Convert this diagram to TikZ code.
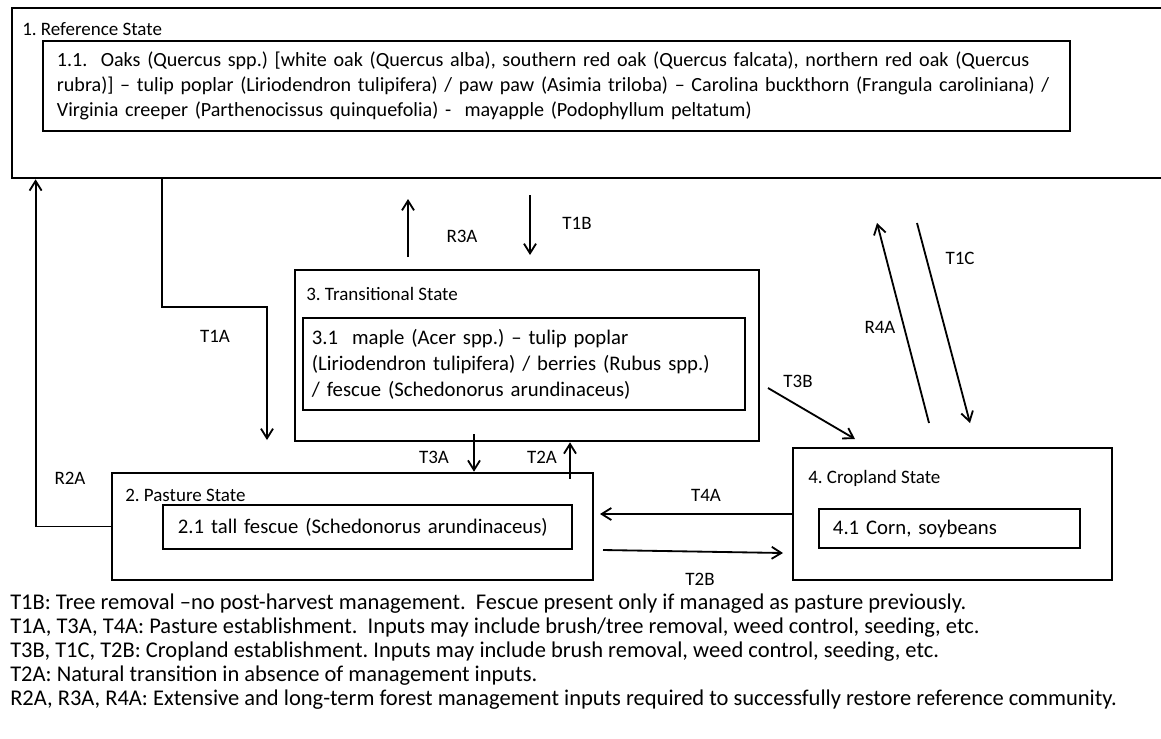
\documentclass[tikz,border=0pt]{standalone}
\usepackage{fontspec}
\setmainfont{Carlito}
\usetikzlibrary{arrows.meta}
\frenchspacing

\begin{document}
\begin{tikzpicture}[
    x=0.025cm, y=-0.025cm,
    statebox/.style={
        draw,
        line width=1.8pt,
        inner sep=0pt
    },
    phasebox/.style={
        draw,
        line width=1.2pt,
        align=left,
        font=\fontsize{14.75}{18}\selectfont
    },
    lbl/.style={
        font=\fontsize{13.5}{16}\selectfont
    },
    arr/.style={
        -{Straight Barb[length=2.4mm,width=3mm]},
        line width=1.3pt
    }
]

\useasboundingbox (0,0) rectangle (1161,738);

% ============================================================
% STATE 1 — REFERENCE
% ============================================================

\node[statebox, minimum width=29.075cm, minimum height=4.25cm] (ref) at (593.5,93) {};

\node[lbl, anchor=west, inner sep=0pt] (reftitle) at (22,29)
{1. Reference State};

\node[phasebox, minimum width=25.675cm, minimum height=2.25cm,
      text width=24.975cm, inner xsep=0.35cm,
      font=\fontsize{14.3}{17.9}\selectfont] (refphase) at (556.5,86)
{1.1.\ \ Oaks (Quercus spp.) [white oak (Quercus alba), southern red oak (Quercus falcata), northern red oak (Quercus\\
rubra)] -- tulip poplar (Liriodendron tulipifera) / paw paw (Asimia triloba) -- Carolina buckthorn (Frangula caroliniana) /\\
Virginia creeper (Parthenocissus quinquefolia) -\ \ mayapple (Podophyllum peltatum)};

% ============================================================
% STATE 3 — TRANSITIONAL
% ============================================================

\node[statebox, minimum width=11.6cm, minimum height=4.275cm] (transit) at (527,355.5) {};

\node[lbl, anchor=west, inner sep=0pt] (transtitle) at (306,294)
{3. Transitional State};

\node[phasebox, minimum width=11.05cm, minimum height=2.3cm,
      text width=10.6cm, inner xsep=0.225cm,
      font=\fontsize{14.75}{18.4}\selectfont] (transphase) at (524,364)
{3.1\ \ maple (Acer spp.) -- tulip poplar\\
(Liriodendron tulipifera) / berries (Rubus spp.)\\
/ fescue (Schedonorus arundinaceus)};

% ============================================================
% STATE 2 — PASTURE
% ============================================================

\node[statebox, minimum width=12.025cm, minimum height=2.675cm] (pasture) at (352.5,526.5) {};

\node[lbl, anchor=west, inner sep=0pt] (pasttitle) at (125,495)
{2. Pasture State};

\node[phasebox, minimum width=10.225cm, minimum height=1.1cm,
      text width=9.475cm, inner xsep=0.375cm] (pastphase) at (367.5,527)
{2.1 tall fescue (Schedonorus arundinaceus)};

% ============================================================
% STATE 4 — CROPLAND
% ============================================================

\node[statebox, minimum width=7.975cm, minimum height=3.3cm] (crop) at (952.5,514) {};

\node[lbl, anchor=west, inner sep=0pt] (croptitle) at (808,478)
{4. Cropland State};

\node[phasebox, minimum width=6.525cm, minimum height=0.975cm,
      text width=5.825cm, inner xsep=0.35cm] (cropphase) at (949.5,528.5)
{4.1 Corn, soybeans};

% ============================================================
% TRANSITIONS AND RESTORATION PATHWAYS
% ============================================================

\coordinate (r3a start) at (408,257);
\coordinate (r3a end) at (408,199);
\coordinate (t1b start) at (530,195);
\coordinate (t1b end) at (530,255);
\coordinate (t1a end) at (267,440);
\coordinate (t3b start) at (768,388);
\coordinate (t3b end) at (855,439);
\coordinate (t2b start) at (603,550);
\coordinate (t2b end) at (783,553);
\coordinate (r4a start) at (929,423);
\coordinate (r4a end) at (877,223);
\coordinate (t1c start) at (917,223);
\coordinate (t1c end) at (970,423);

\draw[arr] (pasture.west) -| ([xshift=0.625cm]ref.south west);
\draw[arr] ([xshift=3.775cm]ref.south west) -- ++(0,128) -| (t1a end);
\draw[arr] (r3a start) -- (r3a end);
\draw[arr] (t1b start) -- (t1b end);
\draw[arr] ([xshift=-1.325cm,yshift=0.2cm]transit.south) -- ([xshift=-1.325cm]transit.south |- pasture.north);
\draw[arr] ([xshift=1.075cm,yshift=-0.175cm]transit.south |- pasture.north) -- ([xshift=1.075cm]transit.south);
\draw[arr] (t3b start) -- (t3b end);
\draw[arr] (crop.west) -- (crop.west -| 600,0);
\draw[arr] (t2b start) -- (t2b end);
\draw[arr] (r4a start) -- (r4a end);
\draw[arr] (t1c start) -- (t1c end);

\node[lbl] (lr2a) at (70,478) {R2A};
\node[lbl] (lt1a) at (215,336) {T1A};
\node[lbl] (lr3a) at (462,236) {R3A};
\node[lbl] (lt1b) at (577,223) {T1B};
\node[lbl] (lt3a) at (434,457) {T3A};
\node[lbl] (lt2a) at (542,457) {T2A};
\node[lbl] (lt3b) at (798,381) {T3B};
\node[lbl] (lt4a) at (706,495) {T4A};
\node[lbl] (lt2b) at (700,579) {T2B};
\node[lbl] (lr4a) at (880,327) {R4A};
\node[lbl] (lt1c) at (960,258) {T1C};

% ============================================================
% LEGEND
% ============================================================

\node[anchor=west, align=left, inner sep=0pt,
      font=\fontsize{16}{17.05}\selectfont] (legend) at (10,652)
{T1B: Tree removal --no post-harvest management.\ \ Fescue present only if managed as pasture previously.\\
T1A, T3A, T4A: Pasture establishment.\ \ Inputs may include brush/tree removal, weed control, seeding, etc.\\
T3B, T1C, T2B: Cropland establishment. Inputs may include brush removal, weed control, seeding, etc.\\
T2A: Natural transition in absence of management inputs.\\
R2A, R3A, R4A: Extensive and long-term forest management inputs required to successfully restore reference community.};

\end{tikzpicture}
\end{document}
